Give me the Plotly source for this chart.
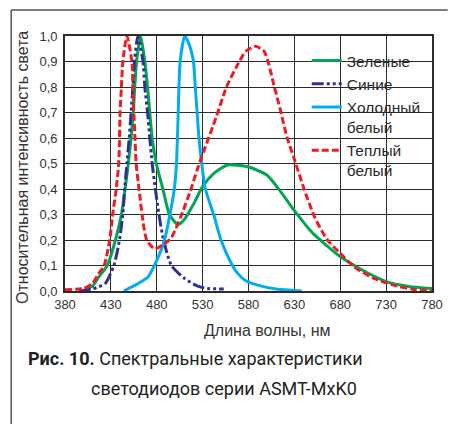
import plotly.graph_objects as go

# ---------------- data ----------------
green_wl = [400, 410, 417, 426, 435, 441.5, 445.5, 449, 452, 454.5, 456, 458, 462.5, 467, 470, 472.4, 475,
            479.5, 486.7, 493.8, 503, 510, 520, 530, 542, 557, 580, 600, 615, 630, 650, 680, 700, 730, 755, 780]
green_val = [0.0, 0.02, 0.056, 0.1, 0.2, 0.3, 0.4, 0.5, 0.6, 0.7, 0.8, 0.9, 1.0, 0.9, 0.8, 0.7, 0.6,
             0.5, 0.4, 0.3, 0.26, 0.28, 0.34, 0.41, 0.46, 0.494, 0.486, 0.455, 0.39, 0.315, 0.227, 0.135, 0.09, 0.037, 0.018, 0.01]

blue_wl = [395, 410, 417, 424, 433.3, 439.4, 443, 445, 447.5, 450, 452, 454, 455.7, 459.5, 465, 467, 470, 472.4,
           475, 478.5, 482.4, 487.4, 496, 510, 524, 535, 553]
blue_val = [0.0, 0.008, 0.017, 0.03, 0.1, 0.2, 0.3, 0.4, 0.5, 0.6, 0.7, 0.8, 0.9, 1.0, 0.9, 0.8, 0.7, 0.6,
            0.5, 0.4, 0.3, 0.2, 0.1, 0.05, 0.02, 0.01, 0.008]

cold_wl = [444, 460, 470.7, 480, 488.5, 493.8, 499, 501.5, 503, 505.5, 510.5, 515, 520, 522, 524, 526, 529, 533,
           542, 550, 561, 568, 577, 593, 610, 638]
cold_val = [0.0, 0.03, 0.056, 0.12, 0.2, 0.29, 0.396, 0.5, 0.65, 0.9, 1.0, 0.97, 0.9, 0.8, 0.7, 0.6, 0.5, 0.4,
            0.3, 0.2, 0.11, 0.07, 0.04, 0.02, 0.008, 0.0]

warm_wl = [380, 400, 410, 417, 422.7, 428.7, 432, 435.8, 438.7, 440, 441.5, 443, 447.5, 452.9, 454, 455, 456.4,
           457.5, 460.7, 464, 469, 477.8, 486, 495.5, 506, 517, 524, 531, 545, 556, 567, 577, 588, 597, 602,
           607.5, 614.7, 621.8, 629, 641, 652, 666, 680, 695, 716, 737, 759, 780]
warm_val = [0.005, 0.01, 0.03, 0.07, 0.1, 0.2, 0.3, 0.4, 0.51, 0.7, 0.8, 0.9, 1.0, 0.9, 0.8, 0.7, 0.59,
            0.5, 0.4, 0.3, 0.2, 0.165, 0.18, 0.207, 0.29, 0.396, 0.475, 0.546, 0.684, 0.80, 0.88, 0.94, 0.96, 0.94, 0.89,
            0.81, 0.71, 0.605, 0.527, 0.396, 0.29, 0.2, 0.148, 0.095, 0.05, 0.024, 0.007, 0.0]

x_ticks = [380, 430, 480, 530, 580, 630, 680, 730, 780]
y_ticks = [0.0, 0.1, 0.2, 0.3, 0.4, 0.5, 0.6, 0.7, 0.8, 0.9, 1.0]
y_tick_labels = ["0,0", "0,1", "0,2", "0,3", "0,4", "0,5", "0,6", "0,7", "0,8", "0,9", "1,0"]

series_names = ["Зеленые", "Синие", "Холодный<br>белый", "Теплый<br>белый"]

# ---------------- figure ----------------
W, H = 455, 424
L, R, T, B = 65, 440, 36, 291

def px(xp):
    return (xp - L) / (R - L)

def py(yp):
    return (B - yp) / (B - T)

FONT = "Liberation Sans, Arial, sans-serif"
GRID = "#2b2b2b"

fig = go.Figure()
fig.add_trace(go.Scatter(x=green_wl, y=green_val, mode="lines", name=series_names[0],
                         line=dict(color="#00a651", width=3, shape="spline", smoothing=0.6)))
fig.add_trace(go.Scatter(x=blue_wl, y=blue_val, mode="lines", name=series_names[1],
                         line=dict(color="#2e3192", width=3, shape="spline", smoothing=0.6,
                                   dash="12px,3px,3px,3px,3px,3px")))
fig.add_trace(go.Scatter(x=cold_wl, y=cold_val, mode="lines", name=series_names[2],
                         line=dict(color="#00aeef", width=3, shape="spline", smoothing=0.6)))
fig.add_trace(go.Scatter(x=warm_wl, y=warm_val, mode="lines", name=series_names[3],
                         line=dict(color="#ed1c24", width=3, shape="spline", smoothing=0.6, dash="7px,3px")))

fig.update_layout(
    width=W, height=H,
    margin=dict(l=L, r=W - R, t=T, b=H - B, pad=0),
    paper_bgcolor="white", plot_bgcolor="white",
    font=dict(family=FONT, color="#333333", size=13),
    showlegend=True,
    legend=dict(x=px(312), y=py(44), xanchor="left", yanchor="top",
                bgcolor="rgba(0,0,0,0)", font=dict(size=15.5, color="#2a2a2a", family=FONT),
                itemwidth=30, tracegroupgap=0, valign="top"),
)
fig.update_xaxes(range=[380, 780], tickvals=x_ticks, ticktext=[str(v) for v in x_ticks],
                 showgrid=True, gridcolor=GRID, gridwidth=1.4,
                 showline=True, mirror=True, linecolor=GRID, linewidth=1.6,
                 ticks="", ticklabelstandoff=1, zeroline=False,
                 tickfont=dict(size=13, color="#333333"))
fig.update_yaxes(range=[0, 1.0], tickvals=y_ticks, ticktext=y_tick_labels,
                 showgrid=True, gridcolor=GRID, gridwidth=1.4,
                 showline=True, mirror=True, linecolor=GRID, linewidth=1.6,
                 ticks="", ticklabelstandoff=3, zeroline=False,
                 tickfont=dict(size=13, color="#333333"))

# white box behind legend (over the grid, under the curves)
fig.add_shape(type="rect", xref="paper", yref="paper",
              x0=px(310), x1=px(433), y0=py(178), y1=py(45),
              fillcolor="white", line=dict(width=0), layer="between")

# outer frame lines
fig.add_shape(type="line", xref="paper", yref="paper", x0=px(10), x1=px(456), y0=py(10), y1=py(10),
              line=dict(color="#555555", width=1.5))
fig.add_shape(type="line", xref="paper", yref="paper", x0=px(10), x1=px(10), y0=py(10), y1=py(425),
              line=dict(color="#555555", width=1.5))

# axis titles
fig.add_annotation(text="Относительная интенсивность света", xref="paper", yref="paper",
                   x=px(21), y=py(167), textangle=-90, showarrow=False,
                   xanchor="center", yanchor="middle",
                   font=dict(size=16, family=FONT, color="#333333"))
fig.add_annotation(text="Длина волны, нм", xref="paper", yref="paper",
                   x=px(272), y=py(330), showarrow=False, xanchor="center", yanchor="middle",
                   font=dict(size=16, family=FONT, color="#333333"))

# caption
fig.add_annotation(text="<b>Рис. 10.</b> Спектральные характеристики", xref="paper", yref="paper",
                   x=px(25), y=py(358), xanchor="left", yanchor="middle", showarrow=False,
                   font=dict(size=18, family="Roboto, sans-serif", color="#222222"))
fig.add_annotation(text="светодиодов серии ASMT-MxK0", xref="paper", yref="paper",
                   x=px(90), y=py(388), xanchor="left", yanchor="middle", showarrow=False,
                   font=dict(size=18, family="Roboto, sans-serif", color="#222222"))

fig.write_html("out.html", config={"displayModeBar": False},
               post_script="document.body.style.margin='0';document.body.style.padding='0';")
